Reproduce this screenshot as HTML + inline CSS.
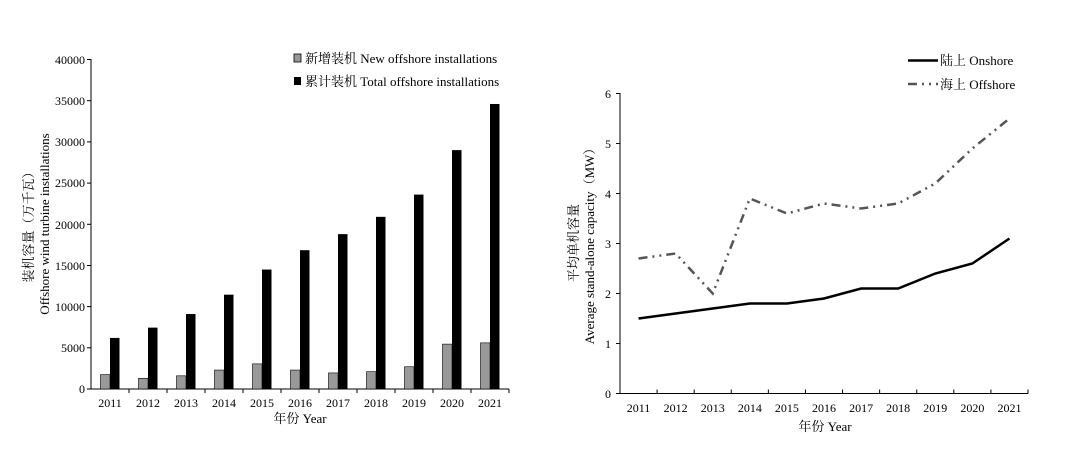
<!DOCTYPE html>
<html><head><meta charset="utf-8"><style>
body{margin:0;background:#fff}
text{font-family:"Liberation Serif","Noto Serif CJK SC",serif;fill:#000}
</style></head><body>
<svg width="1080" height="448" xmlns="http://www.w3.org/2000/svg">
<rect width="1080" height="448" fill="#fff"/>
<g id="left">
<line x1="91" y1="59" x2="91" y2="389" stroke="#000"/>
<line x1="91" y1="389" x2="509" y2="389" stroke="#000"/>
<g font-size="12" text-anchor="end">
<text x="85" y="393">0</text><text x="85" y="352">5000</text><text x="85" y="311">10000</text><text x="85" y="270">15000</text><text x="85" y="229">20000</text><text x="85" y="187">25000</text><text x="85" y="146">30000</text><text x="85" y="105">35000</text><text x="85" y="64">40000</text>
</g>
<g stroke="#000">
<line x1="87" y1="389" x2="91" y2="389"/><line x1="87" y1="347.8" x2="91" y2="347.8"/><line x1="87" y1="306.6" x2="91" y2="306.6"/><line x1="87" y1="265.5" x2="91" y2="265.5"/><line x1="87" y1="224.3" x2="91" y2="224.3"/><line x1="87" y1="183.1" x2="91" y2="183.1"/><line x1="87" y1="141.9" x2="91" y2="141.9"/><line x1="87" y1="100.7" x2="91" y2="100.7"/><line x1="87" y1="59.5" x2="91" y2="59.5"/>
</g>
<g id="lbars"></g>
<text x="300" y="423" font-size="13" text-anchor="middle">年份 Year</text>
<text transform="translate(33,224) rotate(-90)" font-size="13" text-anchor="middle">装机容量（万千瓦）</text>
<text transform="translate(49,224) rotate(-90)" font-size="13" text-anchor="middle">Offshore wind turbine installations</text>
<rect x="294" y="54" width="7" height="8" fill="#999" stroke="#000" stroke-width="0.8"/>
<text x="305" y="63" font-size="13">新增装机 New offshore installations</text>
<rect x="294" y="77" width="7" height="8" fill="#000"/>
<text x="305" y="86" font-size="13">累计装机 Total offshore installations</text>
</g>
<g id="right">
<line x1="620" y1="93" x2="620" y2="393.5" stroke="#000"/>
<line x1="620" y1="393.5" x2="1028" y2="393.5" stroke="#000"/>
<g font-size="12" text-anchor="end">
<text x="611" y="398">0</text><text x="611" y="348">1</text><text x="611" y="298">2</text><text x="611" y="248">3</text><text x="611" y="198">4</text><text x="611" y="148">5</text><text x="611" y="98">6</text>
</g>
<g stroke="#000">
<line x1="616" y1="393.5" x2="620" y2="393.5"/><line x1="616" y1="343.5" x2="620" y2="343.5"/><line x1="616" y1="293.5" x2="620" y2="293.5"/><line x1="616" y1="243.5" x2="620" y2="243.5"/><line x1="616" y1="193.5" x2="620" y2="193.5"/><line x1="616" y1="143.5" x2="620" y2="143.5"/><line x1="616" y1="93.5" x2="620" y2="93.5"/>
</g>
<g id="rticks"></g>
<polyline id="on" fill="none" stroke="#000" stroke-width="2.5"/>
<polyline id="off" fill="none" stroke="#555" stroke-width="2.5" stroke-dasharray="9 5 2 5 2 5"/>
<text x="825" y="431" font-size="13" text-anchor="middle">年份 Year</text>
<text transform="translate(578,243) rotate(-90)" font-size="13" text-anchor="middle">平均单机容量</text>
<text transform="translate(594,243) rotate(-90)" font-size="13" text-anchor="middle">Average stand-alone capacity（MW）</text>
<line x1="908" y1="60.5" x2="938" y2="60.5" stroke="#000" stroke-width="2.5"/>
<text x="940" y="65" font-size="13">陆上 Onshore</text>
<line x1="908" y1="84" x2="938" y2="84" stroke="#555" stroke-width="2.5" stroke-dasharray="9 5 2 5 2 5"/>
<text x="940" y="89" font-size="13">海上 Offshore</text>
</g>
</svg>
<script>
var ns="http://www.w3.org/2000/svg";
function el(p,t,a,txt){var e=document.createElementNS(ns,t);for(var k in a)e.setAttribute(k,a[k]);if(txt)e.textContent=txt;p.appendChild(e);return e;}
var g=[1750,1300,1600,2300,3050,2300,1950,2100,2700,5450,5600];
var b=[6200,7450,9100,11450,14500,16850,18800,20900,23600,29000,34600];
var lb=document.getElementById("lbars");
var sw=418/11;
for(var i=0;i<11;i++){
 var x0=91+sw*i, c=x0+sw/2;
 var hg=g[i]/40000*329.5, hb=b[i]/40000*329.5;
 el(lb,"rect",{x:c-9.5,y:389-hg,width:9.5,height:hg,fill:"#999",stroke:"#000","stroke-width":0.6});
 el(lb,"rect",{x:c,y:389-hb,width:9.5,height:hb,fill:"#000"});
 el(lb,"line",{x1:x0+sw,y1:389,x2:x0+sw,y2:393,stroke:"#000"});
 el(lb,"text",{x:c,y:407,"font-size":12,"text-anchor":"middle"},String(2011+i));
}
var on=[1.5,1.6,1.7,1.8,1.8,1.9,2.1,2.1,2.4,2.6,3.1];
var off=[2.7,2.8,2.0,3.9,3.6,3.8,3.7,3.8,4.2,4.9,5.5];
var rt=document.getElementById("rticks");
var rs=408/11,p1=[],p2=[];
for(var i=0;i<11;i++){
 var c=620+rs*i+rs/2;
 p1.push(c+","+(393.5-on[i]*50));p2.push(c+","+(393.5-off[i]*50));
 el(rt,"line",{x1:620+rs*(i+1),y1:393.5,x2:620+rs*(i+1),y2:389.5,stroke:"#000"});
 el(rt,"text",{x:c,y:412,"font-size":12,"text-anchor":"middle"},String(2011+i));
}
document.getElementById("on").setAttribute("points",p1.join(" "));
document.getElementById("off").setAttribute("points",p2.join(" "));
</script>
</body></html>
